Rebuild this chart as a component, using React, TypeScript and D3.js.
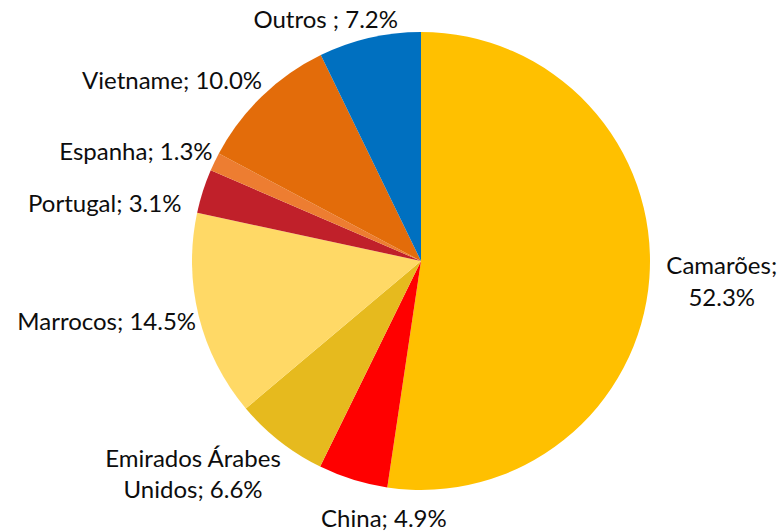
import React, { useEffect, useRef } from "react";
import * as d3 from "d3";

const categories = ["Camarões", "China", "Emirados Árabes Unidos", "Marrocos", "Portugal", "Espanha", "Vietname", "Outros"];
const values = [52.3, 4.9, 6.6, 14.5, 3.1, 1.3, 10.0, 7.2];
const colors = ["#FFC000", "#FF0000", "#E6BA1E", "#FFD966", "#C0202A", "#ED7D31", "#E36C0A", "#0070C0"];
const labelLines = [
  ["Camarões;", "52.3%"],
  ["China; 4.9%"],
  ["Emirados Árabes", "Unidos; 6.6%"],
  ["Marrocos; 14.5%"],
  ["Portugal; 3.1%"],
  ["Espanha; 1.3%"],
  ["Vietname; 10.0%"],
  ["Outros ; 7.2%"],
];

const W = 784;
const H = 532;

export default function App() {
  const ref = useRef<SVGSVGElement | null>(null);

  useEffect(() => {
    const svg = d3.select(ref.current);
    svg.selectAll("*").remove();
    const cx = 421, cy = 261, r = 229;
    const data = categories.map((c, i) => ({ c, v: values[i], color: colors[i], lines: labelLines[i] }));
    const pie = d3.pie<any>().sort(null).value((d) => d.v).startAngle(0).endAngle(2 * Math.PI);
    const arcs = pie(data);
    const arc = d3.arc<any>().innerRadius(0).outerRadius(r);
    const g = svg.append("g").attr("transform", `translate(${cx},${cy})`);
    g.selectAll("path").data(arcs).join("path").attr("d", arc as any).attr("fill", (d: any) => d.data.color);

    const fontSize = 24;
    const lineH = 31.5;
    const capH = fontSize * 0.72;
    const gx = 40, gy = 34;
    const labelShiftX = 7;
    const boxes: { x: number; y: number; w: number; h: number }[] = [];
    const overlaps = (a: any, b: any) =>
      a.x - gx < b.x + b.w && b.x - gx < a.x + a.w &&
      a.y - gy < b.y + b.h && b.y - gy < a.y + a.h;

    // place from the top going counter-clockwise, then the right side
    const order = arcs.map((_: any, i: number) => i).reverse();
    order.forEach((i: number) => {
      const a: any = arcs[i];
      const mid = (a.startAngle + a.endAngle) / 2;
      const s = Math.sin(mid), c = Math.cos(mid);
      const R = r + 10;
      const px = cx + R * s + labelShiftX, py = cy - R * c;
      const t = svg.append("text")
        .attr("font-family", "Lato, 'Open Sans', sans-serif")
        .attr("font-size", fontSize)
        .attr("fill", "#0D0D0D")
        .attr("text-anchor", "middle");
      a.data.lines.forEach((ln: string, k: number) => {
        t.append("tspan").attr("x", 0).attr("y", k * lineH).text(ln);
      });
      const bb = (t.node() as SVGTextElement).getBBox();
      const w = bb.width;
      const h = (a.data.lines.length - 1) * lineH + capH;
      const fx = Math.max(-1, Math.min(1, s * 3));
      const fy = Math.max(-1, Math.min(1, c * 1.5));
      let box = { x: px + ((fx - 1) / 2) * w, y: py + ((-fy - 1) / 2) * h, w, h };
      let guard = 0;
      while (boxes.some((b) => overlaps(box, b)) && guard < 400) {
        if (Math.abs(c) > 0.8) box = { ...box, x: box.x - Math.sign(s) * 1, y: box.y - Math.sign(c) * 0.25 };
        else box = { ...box, x: box.x + Math.sign(s) * 1, y: box.y + 1 };
        guard++;
      }
      boxes.push(box);
      const x0 = box.x + w / 2;
      const y0 = box.y + capH;
      t.attr("transform", `translate(${x0},${y0})`);
    });
  }, []);

  return (
    <svg
      ref={ref}
      width={W}
      height={H}
      style={{ position: "absolute", left: 0, top: 0, background: "#fff" }}
    />
  );
}
